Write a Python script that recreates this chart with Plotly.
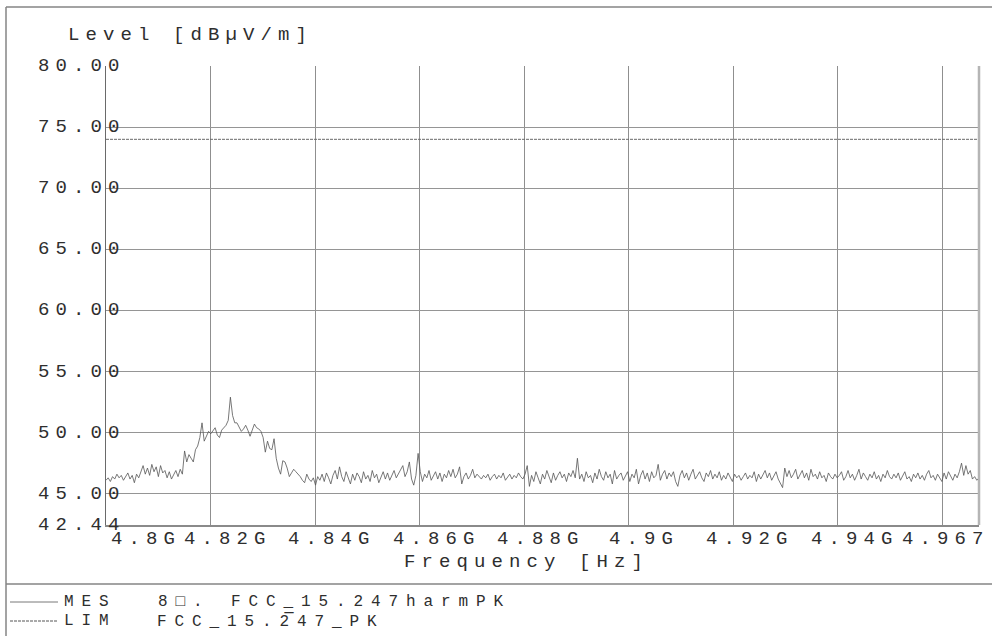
import numpy as np
import plotly.graph_objects as go

# ---- data -------------------------------------------------------------
f_start_hz = 4.8e9
f_stop_hz = 4.967e9
mes_level = [
    46.1, 46.3, 46.0, 46.4, 46.2, 46.6, 46.3, 46.5, 46.1, 46.4, 46.7, 46.2, 46.5, 45.9, 46.6, 46.3, 46.9, 47.3, 46.6, 47.1,
    46.5, 47.4, 46.8, 47.2, 46.4, 47.3, 46.7, 46.9, 46.3, 46.8, 46.2, 46.6, 46.9, 46.4, 47.0, 46.6, 48.5, 47.6, 48.2, 47.9,
    47.6, 48.6, 48.9, 49.6, 50.8, 49.3, 49.7, 50.1, 49.9, 50.2, 50.4, 49.8, 49.6, 50.2, 50.4, 50.6, 51.0, 52.9, 51.4, 50.8,
    50.8, 50.5, 50.1, 50.3, 50.6, 50.2, 49.7, 50.2, 50.7, 50.4, 50.3, 50.1, 49.6, 48.4, 49.3, 48.7, 48.6, 49.5, 47.9, 47.1,
    46.6, 47.7, 47.6, 47.1, 46.4, 46.7, 47.0, 46.8, 46.6, 46.4, 46.1, 45.9, 46.6, 46.2, 46.0, 46.3, 45.7, 46.4, 46.1, 46.6,
    46.0, 46.7, 46.3, 45.8, 46.5, 46.9, 46.2, 47.2, 46.4, 46.0, 46.8, 46.3, 45.8, 46.6, 46.1, 46.7, 46.4, 45.9, 46.8, 46.2,
    46.5, 46.0, 46.9, 46.3, 46.6, 45.9, 46.4, 46.8, 46.2, 46.7, 46.1, 46.5, 46.9, 46.3, 46.6, 47.0, 47.3, 46.4, 46.8, 47.6,
    46.2, 45.7, 46.5, 48.3, 46.8, 46.0, 46.6, 46.3, 46.9, 46.1, 46.5, 46.8, 46.2, 46.7, 46.0, 46.6, 46.3, 46.9, 46.4, 47.0,
    46.3, 46.6, 47.2, 45.8, 46.4, 46.7, 46.2, 46.5, 47.0, 46.3, 46.6, 46.4, 46.2, 46.5, 46.3, 46.6, 46.1, 46.4, 46.6, 46.2,
    46.5, 46.3, 46.7, 46.1, 46.4, 46.6, 46.2, 46.5, 46.3, 46.7, 46.4, 46.2, 46.6, 47.3, 45.6, 46.5, 46.0, 46.8, 46.3, 45.8,
    46.6, 46.2, 46.9, 46.4, 45.9, 46.7, 46.1, 46.5, 46.8, 46.3, 46.6, 46.0, 46.7, 46.4, 46.9, 46.3, 47.9, 46.2, 46.6, 46.0,
    46.8, 46.3, 46.5, 45.9, 46.7, 46.2, 47.0, 46.4, 46.1, 46.8, 46.3, 46.6, 45.8, 46.9, 46.2, 46.5, 46.7, 46.1, 46.4, 46.8,
    46.0, 46.6, 46.3, 47.0, 45.8, 46.5, 46.9, 46.2, 46.7, 46.0, 46.8, 46.3, 46.5, 47.4, 46.1, 46.6, 46.9, 46.2, 46.7, 46.4,
    46.8, 46.0, 45.6, 46.5, 46.9, 46.3, 46.7, 46.1, 46.6, 47.0, 46.2, 46.5, 46.8, 46.3, 46.0, 46.7, 46.4, 46.9, 46.2, 46.6,
    46.3, 46.8, 46.1, 46.5, 46.2, 46.7, 46.4, 46.0, 46.6, 46.3, 46.5, 46.1, 46.4, 46.7, 46.2, 46.5, 46.3, 46.8, 46.0, 46.6,
    46.2, 46.5, 46.9, 46.3, 46.7, 46.1, 46.4, 46.8, 46.2, 45.9, 45.5, 47.1, 46.4, 46.9, 46.3, 46.6, 47.0, 46.2, 46.5, 46.9,
    46.3, 46.7, 46.1, 47.0, 46.4, 46.6, 46.2, 46.8, 46.3, 46.5, 46.0, 46.7, 46.4, 46.2, 46.6, 46.3, 46.5, 46.8, 46.1, 46.4,
    46.9, 46.3, 46.6, 46.1, 46.5, 47.0, 46.2, 46.7, 46.4, 46.1, 46.6, 46.3, 46.8, 46.2, 46.5, 46.0, 46.6, 46.3, 46.9, 46.4,
    46.2, 46.6, 46.3, 46.7, 46.1, 46.5, 46.8, 46.2, 46.4, 46.0, 46.6, 46.3, 46.7, 46.2, 46.5, 46.1, 46.6, 46.9, 46.3, 46.5,
    46.1, 46.6, 46.3, 46.0, 46.7, 46.2, 46.8, 46.4, 46.1, 46.6, 46.3, 46.8, 47.5, 46.5, 47.3, 46.6, 46.9, 46.2, 46.4, 46.1,
    46.3,
]
lim_level = 74.0
y_min, y_max = 42.44, 80.0
y_tick_vals = [45, 50, 55, 60, 65, 70, 75, 80]
y_tick_text = ["45.00", "50.00", "55.00", "60.00", "65.00", "70.00", "75.00", "80.00"]
x_grid_vals = [4.82e9, 4.84e9, 4.86e9, 4.88e9, 4.90e9, 4.92e9, 4.94e9, 4.96e9]
x_label_vals = [4.80e9, 4.82e9, 4.84e9, 4.86e9, 4.88e9, 4.90e9, 4.92e9, 4.94e9, 4.96e9]
x_label_text = ["4.8G", "4.82G", "4.84G", "4.86G", "4.88G", "4.9G", "4.92G", "4.94G", "4.967"]
x_label_shift = [40, 17, 17, 17, 17, 15, 17, 17, 4]

freq = np.linspace(f_start_hz, f_stop_hz, len(mes_level))

# ---- style ------------------------------------------------------------
FS = 19
PITCH = 17.5
FONT = "Liberation Mono, Courier New, monospace"
TXT = "#2e2e2e"


def sp(t, fs=FS):
    ls = PITCH - 0.6 * fs
    return f'<span style="letter-spacing:{ls:.1f}px">{t}</span>'


W, H = 992, 636
L, R, T, B = 106, 979, 66, 525
PW, PH = R - L, B - T


def px(xp):
    return (xp - L) / PW


def py(yp):
    return (B - yp) / PH


fig = go.Figure()
fig.add_trace(go.Scatter(x=freq, y=mes_level, mode="lines", name="MES",
                         line=dict(color="#555555", width=0.8), hoverinfo="skip"))
fig.add_trace(go.Scatter(x=[f_start_hz, f_stop_hz], y=[lim_level, lim_level], mode="lines",
                         name="LIM", line=dict(color="#6a6a6a", width=1, dash="3px,1px"),
                         hoverinfo="skip"))

annotations = []
for v, t in zip(y_tick_vals + [y_min], y_tick_text + ["42.44"]):
    annotations.append(dict(x=0, xref="paper", y=v, yref="y", text=sp(t), showarrow=False,
                            xanchor="left", yanchor="middle", xshift=-70,
                            font=dict(family=FONT, size=FS, color=TXT)))
for v, t, s in zip(x_label_vals, x_label_text, x_label_shift):
    annotations.append(dict(x=v, xref="x", y=0, yref="paper", text=sp(t), showarrow=False,
                            xanchor="center", yanchor="middle", xshift=s, yshift=-14,
                            font=dict(family=FONT, size=FS, color=TXT)))
annotations.append(dict(x=0, xref="paper", y=1, yref="paper", text=sp("Level [dBµV/m]"),
                        showarrow=False, xanchor="left", yanchor="middle", xshift=-40, yshift=31,
                        font=dict(family=FONT, size=FS, color=TXT)))
annotations.append(dict(x=px(402), xref="paper", y=0, yref="paper", text=sp("Frequency [Hz]"),
                        showarrow=False, xanchor="left", yanchor="middle", yshift=-37,
                        font=dict(family=FONT, size=FS, color=TXT)))
LFS = 16
legend_rows = [
    (602, [(63, "MES"), (157, "8□."), (230, "FCC_15.247harmPK")]),
    (621, [(63, "LIM"), (156, "FCC_15.2̅47_PK")]),
]
for yy, items in legend_rows:
    for xx, t in items:
        annotations.append(dict(x=px(xx), xref="paper", y=py(yy), yref="paper", text=sp(t, LFS),
                                showarrow=False, xanchor="left", yanchor="middle", borderpad=0,
                                font=dict(family=FONT, size=LFS, color=TXT)))

shapes = [
    # outer frame and legend separator
    dict(type="line", xref="paper", yref="paper", x0=px(6), x1=px(995), y0=py(7), y1=py(7),
         line=dict(color="#858585", width=1.5)),
    dict(type="line", xref="paper", yref="paper", x0=px(6), x1=px(6), y0=py(7), y1=py(640),
         line=dict(color="#858585", width=1.5)),
    dict(type="line", xref="paper", yref="paper", x0=px(6), x1=px(995), y0=py(584), y1=py(584),
         line=dict(color="#858585", width=1.5)),
    # plot right border (lighter, thicker)
    dict(type="line", xref="paper", yref="paper", x0=1, x1=1, y0=0, y1=1,
         line=dict(color="#b5b5b5", width=2.5)),
    # legend line samples
    dict(type="line", xref="paper", yref="paper", x0=px(10), x1=px(58), y0=py(602), y1=py(602),
         line=dict(color="#555555", width=0.8)),
    dict(type="line", xref="paper", yref="paper", x0=px(10), x1=px(58), y0=py(621), y1=py(621),
         line=dict(color="#555555", width=1, dash="3px,1px")),
]

fig.update_layout(
    width=W, height=H,
    margin=dict(l=L, r=W - R, t=T, b=H - B, pad=0),
    paper_bgcolor="white", plot_bgcolor="white",
    showlegend=False,
    font=dict(family=FONT, size=FS, color=TXT),
    annotations=annotations, shapes=shapes,
    xaxis=dict(range=[f_start_hz, f_stop_hz], tickmode="array", tickvals=x_grid_vals,
               showticklabels=False, ticks="", showgrid=True, gridcolor="#8f8f8f", gridwidth=1,
               zeroline=False, showline=True, linecolor="#8a8a8a", linewidth=1.5, mirror=False),
    yaxis=dict(range=[y_min, y_max], tickmode="array", tickvals=y_tick_vals,
               showticklabels=False, ticks="", showgrid=True, gridcolor="#959595", gridwidth=1.3,
               zeroline=False, showline=True, linecolor="#6a6a6a", linewidth=1.3, mirror=False),
)

fig.write_html("out.html", config={"displayModeBar": False},
               post_script="document.body.style.margin='0';document.body.style.overflow='hidden';")
